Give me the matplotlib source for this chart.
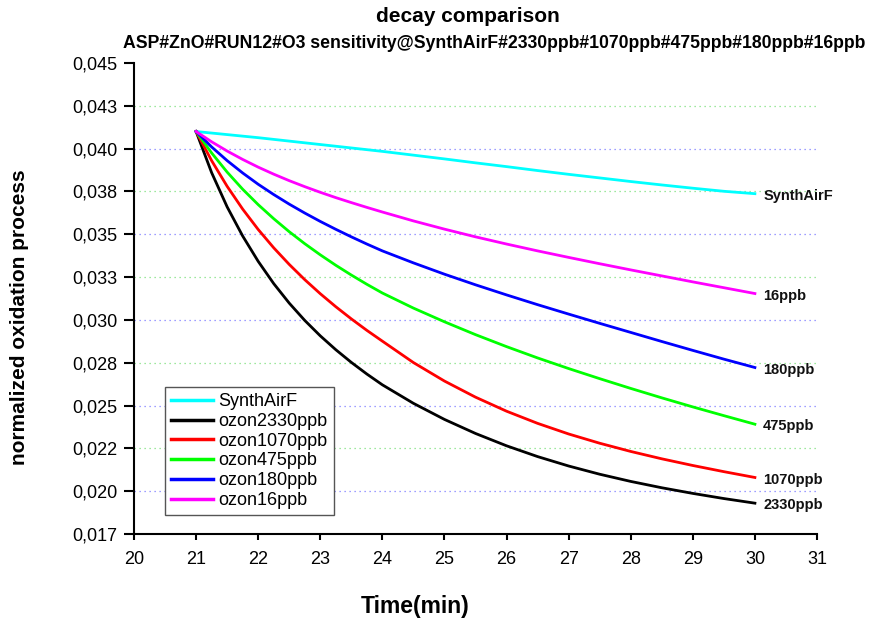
import matplotlib
matplotlib.use("Agg")
import matplotlib.pyplot as plt
from matplotlib.ticker import FixedLocator, FixedFormatter

plt.rcParams['font.family'] = ['Liberation Sans', 'DejaVu Sans']

# ---- data ----
time_min = [21, 21.25, 21.5, 21.75, 22, 22.25, 22.5, 22.75, 23, 23.25, 23.5, 23.75, 24,
            24.5, 25, 25.5, 26, 26.5, 27, 27.5, 28, 28.5, 29, 29.5, 30]
synthairf = [0.04100, 0.04091, 0.04082, 0.04073, 0.04064, 0.04054, 0.04044, 0.04034, 0.04024,
             0.04014, 0.04004, 0.03994, 0.03984, 0.03962, 0.03940, 0.03917, 0.03895, 0.03872,
             0.03850, 0.03829, 0.03808, 0.03788, 0.03769, 0.03751, 0.03737]
ozon2330 = [0.04100, 0.03860, 0.03660, 0.03490, 0.03342, 0.03212, 0.03098, 0.02997, 0.02907,
            0.02826, 0.02752, 0.02684, 0.02621, 0.02513, 0.02419, 0.02337, 0.02265, 0.02202,
            0.02147, 0.02099, 0.02057, 0.02020, 0.01987, 0.01957, 0.01930]
ozon1070 = [0.04100, 0.03930, 0.03780, 0.03647, 0.03528, 0.03421, 0.03324, 0.03235, 0.03153,
            0.03077, 0.03006, 0.02939, 0.02876, 0.02751, 0.02643, 0.02549, 0.02467, 0.02396,
            0.02334, 0.02280, 0.02232, 0.02189, 0.02150, 0.02114, 0.02080]
ozon475 = [0.04100, 0.03975, 0.03863, 0.03763, 0.03673, 0.03591, 0.03515, 0.03445, 0.03380,
           0.03319, 0.03262, 0.03208, 0.03157, 0.03069, 0.02989, 0.02914, 0.02844, 0.02778,
           0.02716, 0.02657, 0.02600, 0.02545, 0.02492, 0.02441, 0.02391]
ozon180 = [0.04100, 0.04010, 0.03930, 0.03858, 0.03792, 0.03732, 0.03676, 0.03624, 0.03575,
           0.03529, 0.03485, 0.03443, 0.03403, 0.03333, 0.03267, 0.03205, 0.03146, 0.03089,
           0.03034, 0.02980, 0.02927, 0.02874, 0.02822, 0.02771, 0.02722]
ozon16 = [0.04100, 0.04040, 0.03986, 0.03937, 0.03892, 0.03851, 0.03813, 0.03778, 0.03745,
          0.03714, 0.03685, 0.03657, 0.03630, 0.03578, 0.03530, 0.03485, 0.03443, 0.03403,
          0.03365, 0.03328, 0.03292, 0.03257, 0.03222, 0.03188, 0.03154]

series_names = ["SynthAirF", "ozon2330ppb", "ozon1070ppb", "ozon475ppb", "ozon180ppb", "ozon16ppb"]
end_labels = ["SynthAirF", "2330ppb", "1070ppb", "475ppb", "180ppb", "16ppb"]
series_values = [synthairf, ozon2330, ozon1070, ozon475, ozon180, ozon16]
colors = ["#00ffff", "#000000", "#ff0000", "#00ff00", "#0000ff", "#ff00ff"]

y_ticks = [0.0175, 0.0200, 0.0225, 0.0250, 0.0275, 0.0300, 0.0325, 0.0350, 0.0375, 0.0400, 0.0425, 0.0450]
y_tick_labels = ["0,017", "0,020", "0,022", "0,025", "0,028", "0,030", "0,033", "0,035", "0,038", "0,040", "0,043", "0,045"]
x_ticks = [20, 21, 22, 23, 24, 25, 26, 27, 28, 29, 30, 31]
grid_green = [0.0225, 0.0275, 0.0325, 0.0375, 0.0425]
grid_blue = [0.0200, 0.0250, 0.0300, 0.0350, 0.0400]

# ---- figure ----
fig = plt.figure(figsize=(8.71, 6.23), dpi=100)
ax = fig.add_axes([134/871, 1-534/623, (817-134)/871, (534-63)/623])

ax.set_xlim(20, 31)
ax.set_ylim(0.0175, 0.045)

ax.hlines(grid_green, 20, 31, colors="#7fe07f", linestyles=(0, (1, 3)), linewidth=0.9, zorder=1)
ax.hlines(grid_blue, 20, 31, colors="#7f7fff", linestyles=(0, (1, 3)), linewidth=0.9, zorder=1)

lines = []
for name, vals, c in zip(series_names, series_values, colors):
    ln, = ax.plot(time_min, vals, color=c, linewidth=2.0, label=name, zorder=3,
                  solid_joinstyle="round")
    lines.append(ln)

for lab, vals in zip(end_labels, series_values):
    ax.annotate(lab, xy=(time_min[-1], vals[-1]), xytext=(6, -1.5), textcoords="offset points",
                ha="left", va="center", fontsize=10.5, fontweight="bold", color="#111111")

ax.yaxis.set_major_locator(FixedLocator(y_ticks))
ax.yaxis.set_major_formatter(FixedFormatter(y_tick_labels))
ax.xaxis.set_major_locator(FixedLocator(x_ticks))

for s in ["top", "right"]:
    ax.spines[s].set_visible(False)
for s in ["left", "bottom"]:
    ax.spines[s].set_linewidth(1.5)

ax.tick_params(axis="y", direction="out", length=7, width=1.5, pad=5, labelsize=13)
ax.tick_params(axis="x", direction="out", length=4.5, width=1.5, pad=8, labelsize=13)

leg = ax.legend(handles=lines, loc="upper left", bbox_to_anchor=(165/871, 1-387/623),
                bbox_transform=fig.transFigure, borderaxespad=0, fontsize=13,
                frameon=True, fancybox=False, edgecolor="#555555", framealpha=1,
                labelspacing=0.15, handlelength=2.3, handletextpad=0.3, borderpad=0.35)
leg.get_frame().set_linewidth(1.0)
for h in leg.legend_handles:
    h.set_linewidth(2.5)

fig.text(468/871, 1-17/623, "decay comparison", ha="center", va="center",
         fontsize=15, fontweight="bold")
fig.text(494/871, 1-44/623,
         "ASP#ZnO#RUN12#O3 sensitivity@SynthAirF#2330ppb#1070ppb#475ppb#180ppb#16ppb",
         ha="center", va="center", fontsize=12.7, fontweight="bold")
fig.text(415/871, 1-607/623, "Time(min)", ha="center", va="center",
         fontsize=16.5, fontweight="bold")
fig.text(20/871, 1-317/623, "normalized oxidation process", ha="center", va="center",
         rotation=90, fontsize=15, fontweight="bold")

fig.savefig("out.png", dpi=100)
